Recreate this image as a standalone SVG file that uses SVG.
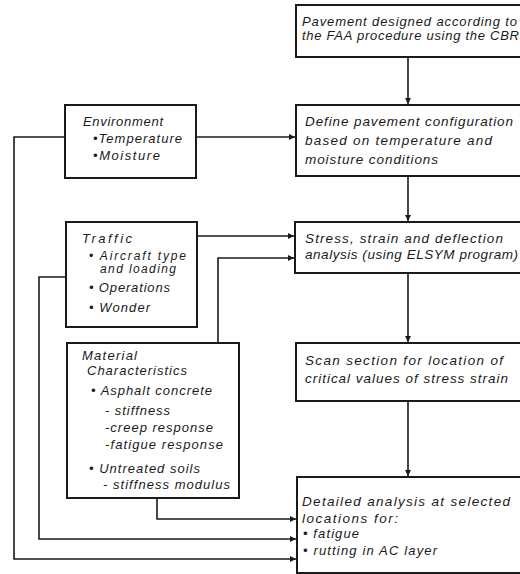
<svg xmlns="http://www.w3.org/2000/svg" width="520" height="574" viewBox="0 0 520 574">
  <style>
    .box { fill: #ffffff; stroke: #1a1a1a; stroke-width: 2; }
    .wire { fill: none; stroke: #1a1a1a; stroke-width: 1.6; }
    text { font-family: "Liberation Sans", Arial, sans-serif; font-style: italic; font-size: 13px; fill: #1a1a1a; }
    .big { font-size: 13.5px; }
    .small { font-size: 12px; }
  </style>
  <defs>
    <marker id="arrow" viewBox="0 0 8 8" refX="8" refY="4" markerWidth="6" markerHeight="6" markerUnits="userSpaceOnUse" orient="auto">
      <path d="M0,0 L8,4 L0,8 Z" fill="#1a1a1a"/>
    </marker>
  </defs>
  <rect width="520" height="574" fill="#ffffff"/>

  <!-- connectors -->
  <g id="connectors">
    <path class="wire" d="M408,57 V104" marker-end="url(#arrow)"/>
    <path class="wire" d="M408,176 V221" marker-end="url(#arrow)"/>
    <path class="wire" d="M408,273 V342" marker-end="url(#arrow)"/>
    <path class="wire" d="M408,401 V476" marker-end="url(#arrow)"/>
    <path class="wire" d="M196,137 H295" marker-end="url(#arrow)"/>
    <path class="wire" d="M65,137 H14 V559 H296" marker-end="url(#arrow)"/>
    <path class="wire" d="M197,236 H294" marker-end="url(#arrow)"/>
    <path class="wire" d="M66,277 H39 V539 H296" marker-end="url(#arrow)"/>
    <path class="wire" d="M218,343 V258 H294" marker-end="url(#arrow)"/>
    <path class="wire" d="M157,498 V519 H296" marker-end="url(#arrow)"/>
  </g>

  <!-- process steps, right column -->
  <g id="design">
    <rect class="box" x="296" y="5" width="240" height="52"/>
    <text x="302" y="26" textLength="215" lengthAdjust="spacing">Pavement designed according to</text>
    <text x="302" y="40" textLength="217" lengthAdjust="spacing">the FAA procedure using the CBR</text>
  </g>
  <g id="configuration">
    <rect class="box" x="296" y="105" width="240" height="71"/>
    <text class="big" x="305" y="126" textLength="208" lengthAdjust="spacing">Define pavement configuration</text>
    <text class="big" x="305" y="145" textLength="187" lengthAdjust="spacing">based on temperature and</text>
    <text class="big" x="305" y="164" textLength="133" lengthAdjust="spacing">moisture conditions</text>
  </g>
  <g id="analysis">
    <rect class="box" x="295" y="222" width="240" height="51"/>
    <text class="big" x="305" y="243" textLength="198" lengthAdjust="spacing">Stress, strain and deflection</text>
    <text class="big" x="305" y="259" textLength="213" lengthAdjust="spacing">analysis (using ELSYM program)</text>
  </g>
  <g id="scan">
    <rect class="box" x="296" y="343" width="240" height="58"/>
    <text class="big" x="305" y="365" textLength="198" lengthAdjust="spacing">Scan section for location of</text>
    <text class="big" x="305" y="383" textLength="203" lengthAdjust="spacing">critical values of stress strain</text>
  </g>
  <g id="detailed">
    <rect class="box" x="297" y="477" width="240" height="96"/>
    <text class="big" x="302" y="506" textLength="208" lengthAdjust="spacing">Detailed analysis at selected</text>
    <text class="big" x="302" y="523" textLength="96" lengthAdjust="spacing">locations for:</text>
    <text x="303" y="538" textLength="56" lengthAdjust="spacing">• fatigue</text>
    <text x="303" y="555" textLength="134" lengthAdjust="spacing">• rutting in AC layer</text>
  </g>

  <!-- inputs, left column -->
  <g id="environment">
    <rect class="box" x="65" y="105" width="131" height="73"/>
    <text x="83" y="126" textLength="80" lengthAdjust="spacing">Environment</text>
    <text x="93" y="143" textLength="89" lengthAdjust="spacing">•Temperature</text>
    <text x="93" y="160" textLength="67" lengthAdjust="spacing">•Moisture</text>
  </g>
  <g id="traffic">
    <rect class="box" x="66" y="222" width="131" height="105"/>
    <text x="82" y="243" textLength="50" lengthAdjust="spacing">Traffic</text>
    <text class="small" x="89" y="260" textLength="97" lengthAdjust="spacing">• Aircraft type</text>
    <text class="small" x="100" y="273" textLength="76" lengthAdjust="spacing">and loading</text>
    <text x="89" y="292" textLength="81" lengthAdjust="spacing">• Operations</text>
    <text x="89" y="312" textLength="61" lengthAdjust="spacing">• Wonder</text>
  </g>
  <g id="material">
    <rect class="box" x="67" y="343" width="172" height="155"/>
    <text x="82" y="360" textLength="55" lengthAdjust="spacing">Material</text>
    <text x="87" y="375" textLength="100" lengthAdjust="spacing">Characteristics</text>
    <text x="91" y="395" textLength="121" lengthAdjust="spacing">• Asphalt concrete</text>
    <text x="105" y="415" textLength="65" lengthAdjust="spacing">- stiffness</text>
    <text x="105" y="432" textLength="108" lengthAdjust="spacing">-creep response</text>
    <text x="105" y="449" textLength="118" lengthAdjust="spacing">-fatigue response</text>
    <text x="89" y="473" textLength="111" lengthAdjust="spacing">• Untreated soils</text>
    <text x="103" y="489" textLength="127" lengthAdjust="spacing">- stiffness modulus</text>
  </g>
</svg>
